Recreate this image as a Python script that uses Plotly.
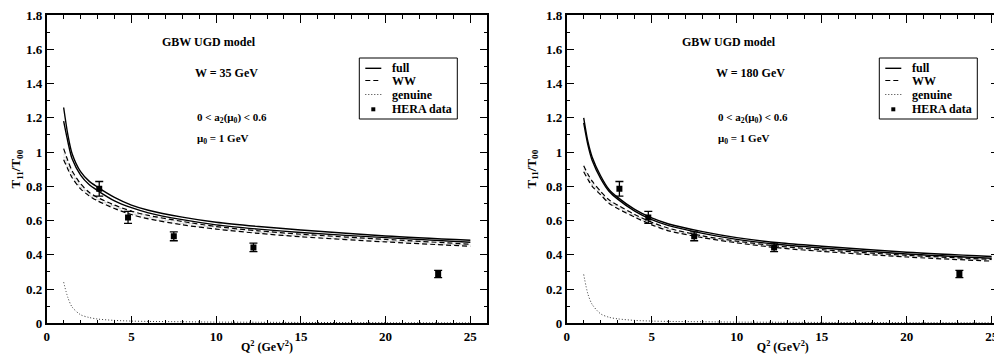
import plotly.graph_objects as go

# ---------------- data ----------------
q2 = [1, 1.25, 1.5, 2, 2.5, 3, 4, 5, 6, 8, 10, 12.5, 15, 20, 25]

# W = 35 GeV
full_hi_35 = [1.26, 1.10, 0.99, 0.885, 0.83, 0.795, 0.735, 0.69, 0.66, 0.62, 0.59, 0.565, 0.545, 0.51, 0.485]
full_lo_35 = [1.18, 1.06, 0.96, 0.865, 0.81, 0.775, 0.715, 0.675, 0.645, 0.605, 0.575, 0.55, 0.53, 0.50, 0.473]
ww_hi_35 = [1.02, 0.95, 0.89, 0.815, 0.765, 0.735, 0.69, 0.655, 0.63, 0.595, 0.565, 0.54, 0.52, 0.49, 0.462]
ww_lo_35 = [0.955, 0.90, 0.85, 0.785, 0.745, 0.715, 0.67, 0.635, 0.61, 0.575, 0.55, 0.525, 0.505, 0.475, 0.45]
gen_35 = [0.24, 0.15, 0.095, 0.05, 0.034, 0.025, 0.017, 0.013, 0.011, 0.009, 0.007, 0.006, 0.005, 0.004, 0.003]

# W = 180 GeV
full_hi_180 = [1.20, 1.06, 0.97, 0.86, 0.78, 0.735, 0.665, 0.615, 0.58, 0.535, 0.50, 0.47, 0.45, 0.415, 0.39]
full_lo_180 = [1.17, 1.04, 0.95, 0.845, 0.77, 0.725, 0.655, 0.605, 0.57, 0.525, 0.49, 0.46, 0.44, 0.405, 0.38]
ww_hi_180 = [0.92, 0.87, 0.83, 0.77, 0.72, 0.69, 0.635, 0.59, 0.555, 0.51, 0.48, 0.45, 0.43, 0.397, 0.373]
ww_lo_180 = [0.885, 0.84, 0.80, 0.75, 0.70, 0.67, 0.62, 0.575, 0.54, 0.50, 0.47, 0.44, 0.42, 0.387, 0.363]
gen_180 = [0.285, 0.17, 0.11, 0.055, 0.035, 0.026, 0.017, 0.013, 0.011, 0.009, 0.007, 0.006, 0.005, 0.004, 0.003]

# HERA data
hera_q2 = [3.1, 4.8, 7.5, 12.2, 23.1]
hera_r = [0.785, 0.618, 0.508, 0.443, 0.288]
hera_err = [0.043, 0.035, 0.026, 0.025, 0.021]

# tick labels
x_tickvals = [0, 5, 10, 15, 20, 25]
x_ticktext = ["0", "5", "10", "15", "20", "25"]
y_tickvals = [0, 0.2, 0.4, 0.6, 0.8, 1.0, 1.2, 1.4, 1.6, 1.8]
y_ticktext = ["0", "0.2", "0.4", "0.6", "0.8", "1", "1.2", "1.4", "1.6", "1.8"]

panel_titles = ["W = 35 GeV", "W = 180 GeV"]
legend_labels = ["full", "WW", "genuine", "HERA data"]

# ---------------- figure ----------------
FONT = "Liberation Serif"
fig = go.Figure()

panels = [
    dict(xa="x", ya="y", full_hi=full_hi_35, full_lo=full_lo_35,
         ww_hi=ww_hi_35, ww_lo=ww_lo_35, gen=gen_35),
    dict(xa="x2", ya="y2", full_hi=full_hi_180, full_lo=full_lo_180,
         ww_hi=ww_hi_180, ww_lo=ww_lo_180, gen=gen_180),
]

SPL = dict(shape="spline", smoothing=0.8)
for p in panels:
    common = dict(xaxis=p["xa"], yaxis=p["ya"], showlegend=False)
    # shaded band (gray dotted pattern) between the WW curves
    fig.add_trace(go.Scatter(x=q2, y=p["ww_lo"], mode="lines", line=dict(width=0, **SPL),
                             hoverinfo="skip", **common))
    fig.add_trace(go.Scatter(x=q2, y=p["ww_hi"], mode="lines", line=dict(width=0, **SPL),
                             fill="tonexty", fillcolor="rgba(0,0,0,0)",
                             fillpattern=dict(shape=".", fgcolor="#8a8a8a", bgcolor="white", size=3, solidity=0.4),
                             hoverinfo="skip", **common))
    # lines
    fig.add_trace(go.Scatter(x=q2, y=p["full_hi"], mode="lines", name=legend_labels[0],
                             line=dict(color="black", width=1.4, **SPL), **common))
    fig.add_trace(go.Scatter(x=q2, y=p["full_lo"], mode="lines", name=legend_labels[0],
                             line=dict(color="black", width=1.4, **SPL), **common))
    fig.add_trace(go.Scatter(x=q2, y=p["ww_hi"], mode="lines", name=legend_labels[1],
                             line=dict(color="black", width=1.2, dash="5px,3px", **SPL), **common))
    fig.add_trace(go.Scatter(x=q2, y=p["ww_lo"], mode="lines", name=legend_labels[1],
                             line=dict(color="black", width=1.2, dash="5px,3px", **SPL), **common))
    fig.add_trace(go.Scatter(x=q2, y=p["gen"], mode="lines", name=legend_labels[2],
                             line=dict(color="#333333", width=1, dash="1px,2px", **SPL), **common))
    fig.add_trace(go.Scatter(x=hera_q2, y=hera_r, mode="markers", name=legend_labels[3],
                             marker=dict(symbol="square", size=6, color="black"),
                             error_y=dict(type="data", array=hera_err, color="black", thickness=1.3, width=4),
                             **common))

W, H = 1002, 358
OFF = 8  # page body margin offset of the rendered figure
def fx(px):
    return (px - OFF) / W
def fy(py):
    return (H - (py - OFF)) / H

y_dom = [fy(323.3), fy(15)]
x_dom1 = [fx(46.7), fx(487.3)]
x_dom2 = [fx(566.7), fx(999)]

tickfont = dict(family=FONT, size=13, color="black", weight="bold")
titlefont = dict(family=FONT, size=13, color="black", weight="bold")
xtitlefont = dict(family=FONT, size=12, color="black", weight="bold")

def bold(lst):
    return ["<b>%s</b>" % t for t in lst]

def xaxis(dom, rng, anchor):
    return dict(domain=dom, range=rng, anchor=anchor, automargin=False,
                showgrid=False, zeroline=False, ticklabeloverflow="allow",
                showline=True, linecolor="black", linewidth=1.5, mirror="allticks",
                ticks="inside", ticklen=8, tickwidth=1.2, tickcolor="black",
                tickmode="array", tickvals=x_tickvals, ticktext=bold(x_ticktext), tickfont=tickfont,
                minor=dict(ticks="inside", ticklen=4, tickwidth=1, tickcolor="black", dtick=1, tick0=0),
                title=dict(text="<b>Q<sup>2</sup> (GeV<sup>2</sup>)</b>", font=xtitlefont, standoff=0))

def yaxis(dom, anchor):
    return dict(domain=dom, range=[0, 1.8], anchor=anchor, automargin=False,
                showgrid=False, zeroline=False, ticklabeloverflow="allow",
                showline=True, linecolor="black", linewidth=1.5, mirror="allticks",
                ticks="inside", ticklen=8, tickwidth=1.2, tickcolor="black",
                tickmode="array", tickvals=y_tickvals, ticktext=bold(y_ticktext), tickfont=tickfont,
                minor=dict(ticks="inside", ticklen=4, tickwidth=1, tickcolor="black", dtick=0.1, tick0=0),
                title=dict(text="<b>T<sub>11</sub>/T<sub>00</sub></b>", font=titlefont, standoff=7))

fig.update_layout(
    width=W, height=H, margin=dict(l=0, r=0, t=0, b=0, autoexpand=False),
    paper_bgcolor="white", plot_bgcolor="white", showlegend=False,
    xaxis=xaxis(x_dom1, [0, 26], "y"), yaxis=yaxis(y_dom, "x"),
    xaxis2=xaxis(x_dom2, [0, 25.43], "y2"), yaxis2=yaxis(y_dom, "x2"),
)

ann_font = dict(family=FONT, size=12, color="black", weight="bold")
small_font = dict(family=FONT, size=11, color="black", weight="bold")
for xr, yr, wtxt in [("x", "y", panel_titles[0]), ("x2", "y2", panel_titles[1])]:
    fig.add_annotation(x=6.67, y=1.642, xref=xr, yref=yr, text="<b>GBW UGD model</b>", showarrow=False,
                       xanchor="left", yanchor="middle", font=ann_font)
    fig.add_annotation(x=8.66, y=1.461, xref=xr, yref=yr, text="<b>%s</b>" % wtxt, showarrow=False,
                       xanchor="left", yanchor="middle", font=ann_font)
    fig.add_annotation(x=8.78, y=1.198, xref=xr, yref=yr,
                       text="<b>0 &lt; a<sub>2</sub>(\u03bc<sub>0</sub>) &lt; 0.6</b>", showarrow=False,
                       xanchor="left", yanchor="middle", font=small_font)
    fig.add_annotation(x=8.78, y=1.076, xref=xr, yref=yr,
                       text="<b>\u03bc<sub>0</sub> = 1 GeV</b>", showarrow=False,
                       xanchor="left", yanchor="middle", font=small_font)

# ---------------- legends (one box per panel) ----------------
leg_font = dict(family=FONT, size=12, color="black", weight="bold")
row_y = [68.3, 80.5, 94.5, 109.3]
for ox in [0, 520]:
    x0, x1 = 359.3 + ox, 457.3 + ox
    fig.add_shape(type="rect", xref="paper", yref="paper", x0=fx(x0), x1=fx(x1), y0=fy(119), y1=fy(58),
                  line=dict(color="black", width=1), fillcolor="white", layer="above")
    styles = [dict(color="black", width=1.4), dict(color="black", width=1.2, dash="5px,3px"),
              dict(color="#333333", width=1, dash="1px,2px")]
    for i in range(3):
        fig.add_shape(type="line", xref="paper", yref="paper", x0=fx(x0 + 6), x1=fx(x0 + 22),
                      y0=fy(row_y[i]), y1=fy(row_y[i]), line=styles[i], layer="above")
    fig.add_shape(type="rect", xref="paper", yref="paper", x0=fx(x0 + 12), x1=fx(x0 + 16),
                  y0=fy(row_y[3] + 2), y1=fy(row_y[3] - 2), line=dict(width=0), fillcolor="black", layer="above")
    for i, lab in enumerate(legend_labels):
        fig.add_annotation(x=fx(x0 + 31), y=fy(row_y[i]), xref="paper", yref="paper",
                           text="<b>%s</b>" % lab, showarrow=False, xanchor="left", yanchor="middle",
                           font=leg_font)

fig.write_html("out.html")
